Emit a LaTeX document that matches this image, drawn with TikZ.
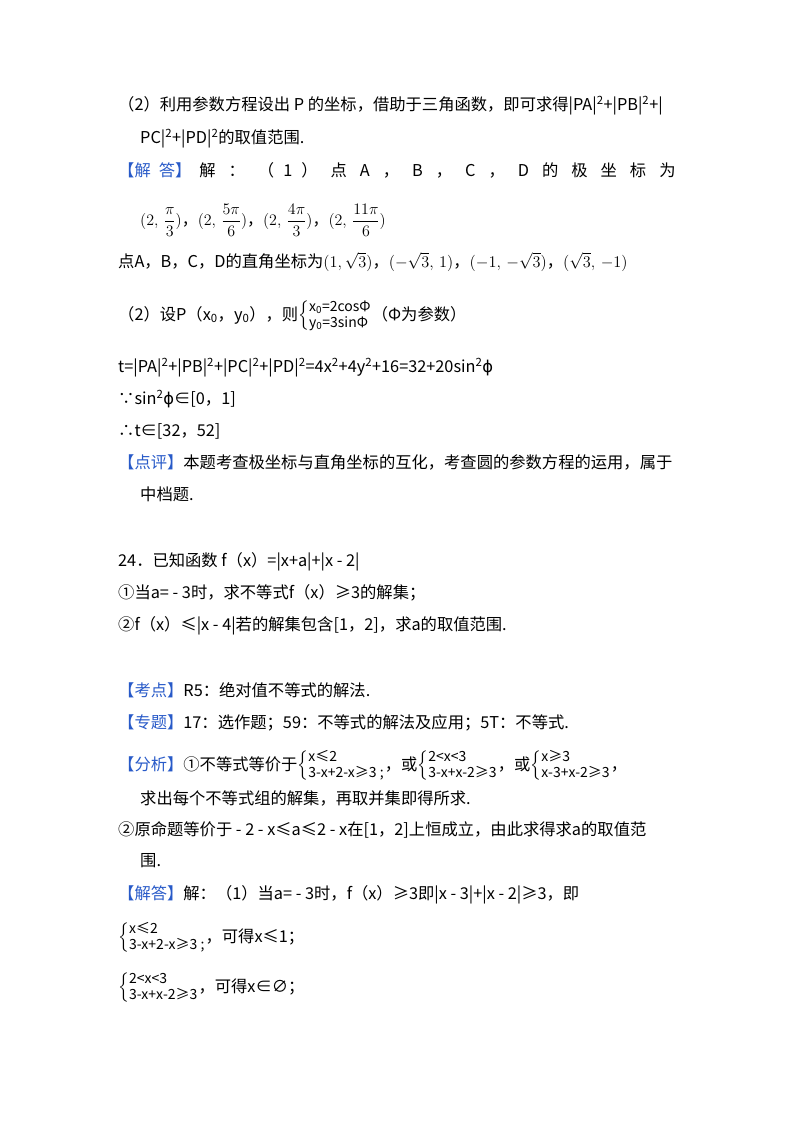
\RequirePackage{fix-cm}
\documentclass[tikz,border=0pt]{standalone}
\usepackage{amsmath,amssymb}
\usepackage{fontspec}
\setmainfont{Noto Sans CJK SC}
\newfontfamily\djvfont{DejaVu Sans}
\newcommand{\myph}{{\djvfont ϕ}}
\newcommand{\bk}[1]{\textcolor{hdblue}{【#1】}}
\newcommand{\mycs}[2]{$\left\{\vcenter{\hbox{\fontsize{14}{16}\selectfont\begin{tabular}{@{}l@{}}#1\\ #2\end{tabular}}}\right.$}
\definecolor{hdblue}{RGB}{40,90,200}
\begin{document}
\begin{tikzpicture}[x=1pt,y=-1pt,
  t/.style={anchor=base west,inner sep=0pt,font=\fontsize{16.3}{18}\selectfont},
  m/.style={anchor=west,inner sep=0pt,font=\fontsize{16.3}{18}\selectfont}]
\useasboundingbox (0,0) rectangle (800,1133);
\node[t] (l1) at (118,110) {（2）利用参数方程设出 P 的坐标，借助于三角函数，即可求得|PA|\textsuperscript{2}+|PB|\textsuperscript{2}+|};
\node[t] (l2) at (140,143) {PC|\textsuperscript{2}+|PD|\textsuperscript{2}的取值范围.};
\node[t] (l3) at (118,176) {\bk{解\hspace{8pt}答}\hspace{8pt}解\hspace{13pt}：\hspace{13pt}（\hspace{9pt}1\hspace{9pt}）\hspace{13pt}点\hspace{13pt}A\hspace{13pt}，\hspace{13pt}B\hspace{13pt}，\hspace{13pt}C\hspace{13pt}，\hspace{13pt}D\hspace{13pt}的\hspace{13pt}极\hspace{13pt}坐\hspace{13pt}标\hspace{13pt}为};
\node[m,font=\fontsize{16}{18}\selectfont] (l4) at (140,220) {$(2,\,\dfrac{\pi}{3})$，$(2,\,\dfrac{5\pi}{6})$，$(2,\,\dfrac{4\pi}{3})$，$(2,\,\dfrac{11\pi}{6})$};
\node[t] (l5) at (118,267) {点A，B，C，D的直角坐标为$(1,\sqrt{3})$，$(-\sqrt{3},\,1)$，$(-1,\,-\sqrt{3})$，$(\sqrt{3},\,-1)$};
\node[m] (l6) at (118,316) {（2）设P（x\textsubscript{0}，y\textsubscript{0}），则\mycs{x\textsubscript{0}=2cosΦ}{y\textsubscript{0}=3sinΦ}（Φ为参数）};
\node[t] (l7) at (118,372) {t=|PA|\textsuperscript{2}+|PB|\textsuperscript{2}+|PC|\textsuperscript{2}+|PD|\textsuperscript{2}=4x\textsuperscript{2}+4y\textsuperscript{2}+16=32+20sin\textsuperscript{2}\myph};
\node[t] (l8) at (118,404) {∵sin\textsuperscript{2}\myph∈[0，1]};
\node[t] (l9) at (118,436) {∴t∈[32，52]};
\node[t] (l10) at (118,468) {\bk{点评}本题考查极坐标与直角坐标的互化，考查圆的参数方程的运用，属于};
\node[t] (l11) at (140,500) {中档题.};
\node[t] (l12) at (118,566) {24．已知函数 f（x）=|x+a|+|x - 2|};
\node[t] (l13) at (118,598) {①当a= - 3时，求不等式f（x）≥3的解集；};
\node[t] (l14) at (118,630) {②f（x）≤|x - 4|若的解集包含[1，2]，求a的取值范围.};
\node[t] (l15) at (118,696) {\bk{考点}R5：绝对值不等式的解法.};
\node[t] (l16) at (118,728) {\bk{专题}17：选作题；59：不等式的解法及应用；5T：不等式.};
\node[m] (l17) at (118,766) {\bk{分析}①不等式等价于\mycs{x≤2}{3-x+2-x≥3 ;}，或\mycs{2<x<3}{3-x+x-2≥3}，或\mycs{x≥3}{x-3+x-2≥3}，};
\node[t] (l18) at (140,804) {求出每个不等式组的解集，再取并集即得所求.};
\node[t] (l19) at (118,835) {②原命题等价于 - 2 - x≤a≤2 - x在[1，2]上恒成立，由此求得求a的取值范};
\node[t] (l20) at (140,866) {围.};
\node[t] (l21) at (118,899) {\bk{解答}解：（1）当a= - 3时，f（x）≥3即|x - 3|+|x - 2|≥3，即};
\node[m] (l22) at (118,938) {\mycs{x≤2}{3-x+2-x≥3 ;}，可得x≤1；};
\node[m] (l23) at (118,988) {\mycs{2<x<3}{3-x+x-2≥3}，可得x∈∅；};
\end{tikzpicture}
\end{document}
